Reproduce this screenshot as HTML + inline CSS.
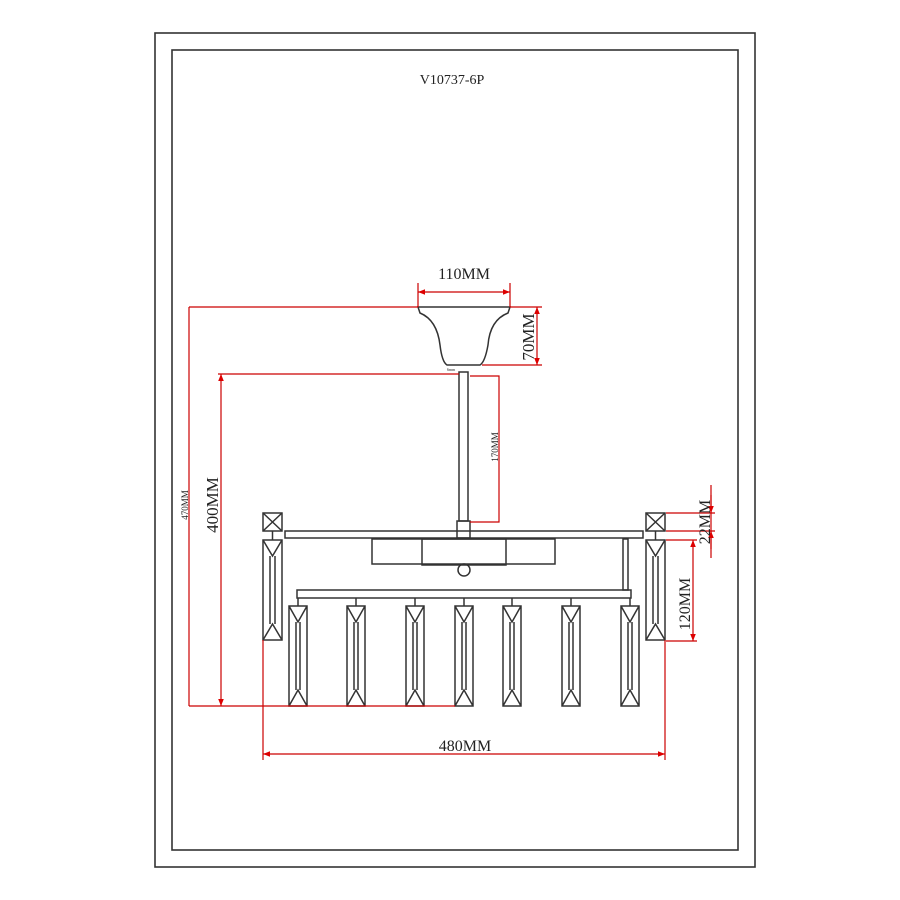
<!DOCTYPE html>
<html><head><style>body{margin:0;background:#fff}svg{display:block}</style></head>
<body>
<svg width="900" height="900" viewBox="0 0 900 900" xmlns="http://www.w3.org/2000/svg" font-family="'Liberation Serif',serif">
<defs>
<marker id="a" viewBox="0 0 10 10" refX="10" refY="5" markerWidth="12" markerHeight="7" orient="auto-start-reverse" markerUnits="userSpaceOnUse"><path d="M0,1 L10,5 L0,9z" fill="#d00"/></marker>
</defs>
<rect x="155" y="33" width="600" height="834" fill="none" stroke="#333" stroke-width="1.6"/>
<rect x="172" y="50" width="566" height="800" fill="none" stroke="#333" stroke-width="1.6"/>
<text x="452" y="84" font-size="14" text-anchor="middle" fill="#222">V10737-6P</text>

<g stroke="#333" stroke-width="1.5" fill="none">
<path d="M418,307 L510,307 L508,313 Q490,320 488,345 Q485,362 480,365 L447,365 Q442,362 440,345 Q437,320 420,313 Z"/>
<rect x="459" y="372" width="9" height="149"/>
<rect x="457" y="521" width="13" height="17"/>
<rect x="285" y="531" width="358" height="7"/>
<rect x="263" y="513" width="19" height="18"/><path d="M263,513 L282,531 M282,513 L263,531"/>
<rect x="646" y="513" width="19" height="18"/><path d="M646,513 L665,531 M665,513 L646,531"/>
<rect x="372" y="539" width="183" height="25"/>
<rect x="422" y="539" width="84" height="26"/>
<circle cx="464" cy="570" r="6"/>
<rect x="623" y="539" width="5" height="51"/>
<rect x="297" y="590" width="334" height="8"/>
<rect x="263" y="540" width="19" height="100"/><path d="M263,540 L272.5,556 L282,540 M263,640 L272.5,624 L282,640 M270,556 V624 M275,556 V624"/>
<rect x="646" y="540" width="19" height="100"/><path d="M646,540 L655.5,556 L665,540 M646,640 L655.5,624 L665,640 M653,556 V624 M658,556 V624"/>
<path d="M272.5,531 V540 M655.5,531 V540"/>
</g>
<g stroke="#333" stroke-width="1.5" fill="none" id="cr">
<path d="M289,606 h18 v100 h-18 z M289,606 L298,622 L307,606 M289,706 L298,690 L307,706 M296,622 V690 M300,622 V690 M298,598 V606"/>
</g>
<use href="#cr" x="58"/><use href="#cr" x="117"/><use href="#cr" x="166"/><use href="#cr" x="214"/><use href="#cr" x="273"/><use href="#cr" x="332"/>

<g stroke="#c00" stroke-width="1.2" fill="none">
<path d="M418,283 V307 M510,283 V307"/>
<path d="M418,292 H510" marker-start="url(#a)" marker-end="url(#a)"/>
<path d="M189,307 H418 M189,307 V706 M189,706 H455"/>
<path d="M218,374 H459"/>
<path d="M221,374 V706" marker-start="url(#a)" marker-end="url(#a)"/>
<path d="M510,307 H542 M482,365 H542"/>
<path d="M537,307 V365" marker-start="url(#a)" marker-end="url(#a)"/>
<path d="M470,376 H499 V522 H470"/>
<path d="M666,513 H715 M666,531 H715 M711,485 V558"/>
<path d="M711,495 V513" marker-end="url(#a)"/>
<path d="M711,549 V531" marker-end="url(#a)"/>
<path d="M666,540 H697 M666,641 H697"/>
<path d="M693,540 V641" marker-start="url(#a)" marker-end="url(#a)"/>
<path d="M263,640 V760 M665,640 V760"/>
<path d="M263,754 H665" marker-start="url(#a)" marker-end="url(#a)"/>
</g>

<g fill="#222">
<text x="464" y="279" font-size="16" text-anchor="middle">110MM</text>
<text x="465" y="751" font-size="16" text-anchor="middle">480MM</text>
<text transform="translate(218,505) rotate(-90)" font-size="17" text-anchor="middle">400MM</text>
<text transform="translate(188,505) rotate(-90)" font-size="9" text-anchor="middle">470MM</text>
<text transform="translate(534,337) rotate(-90)" font-size="17" text-anchor="middle">70MM</text>
<text transform="translate(498,447) rotate(-90)" font-size="9" text-anchor="middle">170MM</text>
<text transform="translate(710,522) rotate(-90)" font-size="16" text-anchor="middle">22MM</text>
<text transform="translate(690,604) rotate(-90)" font-size="16" text-anchor="middle">120MM</text>
<text x="447" y="371" font-size="4">6mm</text>
</g>
</svg>
</body></html>
